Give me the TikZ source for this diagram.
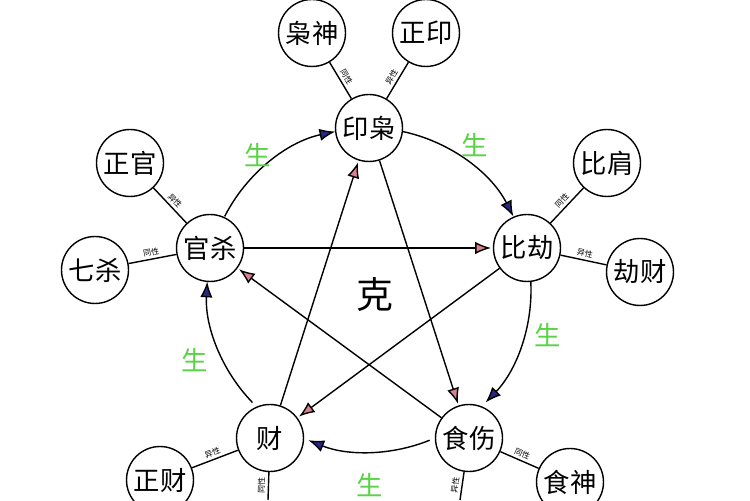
\documentclass[tikz,border=0pt]{standalone}
\usepackage{fontspec}
\setmainfont{Noto Sans CJK SC}
\usetikzlibrary{arrows.meta, calc}
\definecolor{genblue}{RGB}{40, 40, 130}
\definecolor{kepink}{RGB}{215, 130, 145}
\definecolor{gengreen}{RGB}{90, 210, 70}
\tikzset{
  mainnode/.style={circle, draw, thick, fill=white, minimum size=1.34cm, inner sep=0pt, font=\fontsize{15}{15}\selectfont},
  subnode/.style={circle, draw, thick, fill=white, minimum size=1.34cm, inner sep=0pt, font=\fontsize{15}{15}\selectfont},
  genarrow/.style={thick, -{Latex[length=9pt, width=7pt, fill=genblue]}},
  kearrow/.style={thick, -{Latex[length=9pt, width=7pt, fill=kepink]}, shorten >=1pt},
  linklabel/.style={font=\fontsize{4.5}{4.5}\selectfont, sloped, above, inner sep=1.5pt},
  genlabel/.style={text=gengreen, font=\fontsize{15}{15}\selectfont}
}
\begin{document}
\begin{tikzpicture}[x=0.02cm, y=0.02cm]
    \useasboundingbox (0,0) rectangle (750,500);
    \clip (0,0) rectangle (750,500);

    % centre of the ring
    \coordinate (ring) at (369,210);

    % five main nodes
    \node[mainnode] (yin) at (369,372) {印枭};
    \node[mainnode] (bi) at (527,252) {比劫};
    \node[mainnode] (shi) at (469,62) {食伤};
    \node[mainnode] (cai) at (270,62) {财};
    \node[mainnode] (guan) at (210,252) {官杀};

    % satellite nodes
    \node[subnode] (xiaoshen) at (312,467) {枭神};
    \node[subnode] (zhengyin) at (426,467) {正印};
    \node[subnode] (bijian) at (607,337) {比肩};
    \node[subnode] (jiecai) at (640,228) {劫财};
    \node[subnode] (zhengguan) at (130,337) {正官};
    \node[subnode] (qisha) at (95,230) {七杀};
    \node[subnode] (zhengcai) at (160,20) {正财};
    \node[subnode] (shishen) at (570,18) {食神};
    \coordinate (piancai) at (268,0);
    \coordinate (shangguan) at (460,0);

    % satellite links
    \draw[thick] (xiaoshen) -- node[linklabel] {同性} (yin);
    \draw[thick] (yin) -- node[linklabel] {异性} (zhengyin);
    \draw[thick] (bi) -- node[linklabel] {同性} (bijian);
    \draw[thick] (bi) -- node[linklabel] {异性} (jiecai);
    \draw[thick] (zhengguan) -- node[linklabel] {异性} (guan);
    \draw[thick] (qisha) -- node[linklabel] {同性} (guan);
    \draw[thick] (zhengcai) -- node[linklabel] {异性} (cai);
    \draw[thick] (cai) -- node[linklabel] {同性} (piancai);
    \draw[thick] (shi) -- node[linklabel] {同性} (shishen);
    \draw[thick] (shi) -- node[linklabel] {异性} (shangguan);

    % generating ring
    \draw[genarrow] ($(ring)+(78:162)$) arc (78:27:162);
    \draw[genarrow] ($(ring)+(3:162)$) arc (3:-44:162);
    \draw[genarrow] ($(ring)+(-68:162)$) arc (-68:-112:162);
    \draw[genarrow] ($(ring)+(-136:162)$) arc (-136:-183:162);
    \draw[genarrow] ($(ring)+(153:162)$) arc (153:102:162);

    % controlling star
    \draw[kearrow] (guan) -- (bi);
    \draw[kearrow] (bi) -- (cai);
    \draw[kearrow] (cai) -- (yin);
    \draw[kearrow] (yin) -- (shi);
    \draw[kearrow] (shi) -- (guan);

    % labels
    \node[genlabel] at (258,345) {生};
    \node[genlabel] at (475,355) {生};
    \node[genlabel] at (548,165) {生};
    \node[genlabel] at (370,15) {生};
    \node[genlabel] at (195,140) {生};
    \node[font=\fontsize{21}{21}\selectfont] at (375,205) {克};
\end{tikzpicture}
\end{document}
